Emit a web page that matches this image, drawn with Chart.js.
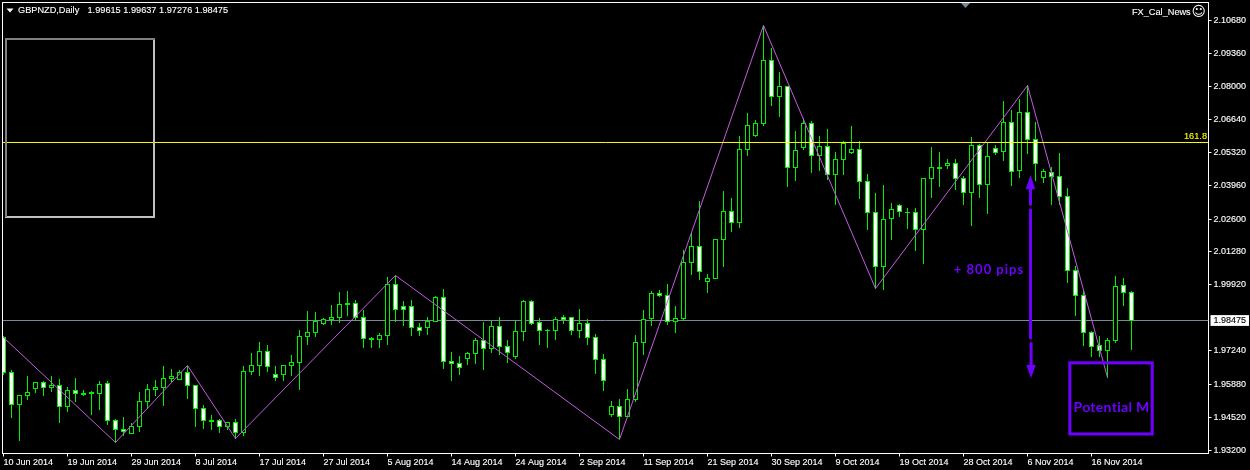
<!DOCTYPE html>
<html>
<head>
<meta charset="utf-8">
<style>html,body{margin:0;padding:0;background:#000;overflow:hidden}canvas{display:block}</style>
<script src="https://cdn.jsdelivr.net/npm/chart.js@4"></script>
</head>
<body>
<canvas id="c" width="1250" height="470"></canvas>
<script>
const opens = [
1.97784,1.96360,1.95057,1.95423,1.95708,1.95953,1.95749,1.95830,1.94976,1.95627,
1.95505,1.95546,1.95505,1.95912,1.94406,1.94040,1.93877,1.94162,1.95179,1.95668,
1.95749,1.96115,1.96075,1.96360,1.95830,1.94894,1.94406,1.94406,1.94162,1.94325,
1.93918,1.96400,1.96644,1.97214,1.96278,1.96278,1.96644,1.96767,1.97825,1.97988,
1.98354,1.98517,1.98598,1.99168,1.99168,1.98598,1.97743,1.97703,1.97865,1.99941,
1.99046,1.99046,1.98191,1.98191,1.98435,1.99412,1.96807,1.96726,1.96929,1.97133,
1.97662,1.97336,1.98232,1.97418,1.97011,1.98028,1.99249,1.98395,1.98069,1.98069,
1.98598,1.98598,1.98069,1.98354,1.97784,1.96889,1.94650,1.94976,1.94569,1.95261,
1.97581,1.98557,1.99575,1.99494,1.98435,1.98557,2.00837,2.01488,2.00063,2.00185,
2.01773,2.02912,2.02465,2.05436,2.06005,2.06494,2.09058,2.07593,2.08000,2.04703,
2.05517,2.06494,2.05191,2.05558,2.04418,2.05029,2.05314,2.05436,2.04133,2.02872,
2.00674,2.02628,2.03157,2.02872,2.02872,2.02180,2.04256,2.04703,2.04784,2.04866,
2.04256,2.03686,2.05598,2.04011,2.05476,2.05355,2.06535,2.04581,2.06942,2.05843,
2.04296,2.04500,2.04337,2.03523,2.00511,1.99494,1.97988,1.97458,1.97255,1.97662,
1.99900,1.99615];
const highs = [
1.97825,1.96441,1.95423,1.96197,1.95953,1.95993,1.96197,1.96075,1.95749,1.96115,
1.95627,1.95586,1.95993,1.95993,1.94447,1.94528,1.94284,1.95546,1.95871,1.96034,
1.96604,1.96482,1.96441,1.96604,1.95830,1.95016,1.94609,1.94447,1.94325,1.94447,
1.96604,1.97133,1.97581,1.97458,1.96604,1.96644,1.97051,1.98069,1.98842,1.98802,
1.98557,1.99086,1.99616,1.99656,1.99290,1.98883,1.97784,1.97947,2.00226,2.00307,
1.99249,1.99290,1.98354,1.98598,1.99453,1.99738,1.97174,1.97011,1.97174,1.97743,
1.98395,1.98435,1.98598,1.97662,1.98435,1.99290,1.99290,1.98557,1.98110,1.98598,
1.98679,1.98598,1.98924,1.98517,1.97906,1.97092,1.95179,1.95261,1.95668,1.97865,
1.98883,1.99656,1.99697,1.99941,1.99046,2.01325,2.02017,2.03319,2.00348,2.01773,
2.03726,2.03441,2.05965,2.06901,2.06616,2.10482,2.09546,2.08570,2.08000,2.06168,
2.06697,2.06575,2.05965,2.06250,2.05314,2.05761,2.06372,2.05761,2.04418,2.03645,
2.03971,2.03238,2.03197,2.03034,2.03034,2.04256,2.05517,2.05314,2.05029,2.05029,
2.04337,2.05924,2.05639,2.05680,2.05598,2.07389,2.07023,2.07471,2.08040,2.06535,
2.04622,2.04703,2.05273,2.03848,2.00674,1.99656,1.98028,1.97825,1.97743,2.00267,
2.00185,1.99637];
const lows = [
1.96278,1.94528,1.93592,1.95261,1.95546,1.95423,1.95586,1.94325,1.94772,1.95179,
1.95423,1.94650,1.94854,1.94243,1.93511,1.93795,1.93877,1.93958,1.94894,1.95423,
1.95016,1.95993,1.96075,1.95301,1.94162,1.94080,1.94040,1.93918,1.94040,1.93673,
1.93795,1.96278,1.96237,1.96400,1.96034,1.96034,1.96237,1.95668,1.97499,1.97825,
1.98313,1.98313,1.98395,1.98679,1.98476,1.97377,1.97377,1.97377,1.97499,1.98435,
1.98272,1.97865,1.97865,1.97906,1.98435,1.96523,1.96034,1.96278,1.96685,1.96726,
1.96482,1.97174,1.97092,1.96767,1.96929,1.97662,1.98313,1.97499,1.97377,1.97703,
1.98354,1.97906,1.97784,1.97499,1.96319,1.95627,1.94569,1.93673,1.94569,1.95179,
1.97092,1.98272,1.99453,1.98313,1.97988,1.98476,2.00348,2.00145,1.99616,2.00185,
2.00674,2.02098,2.02261,2.05191,2.05965,2.06412,2.07226,2.06779,2.03930,2.04174,
2.05436,2.04500,2.04581,2.04215,2.03197,2.04418,2.05273,2.03441,2.02180,1.99778,
1.99738,2.01773,2.02709,2.02220,2.01325,2.00796,2.03482,2.03930,2.04662,2.03808,
2.03197,2.02342,2.03482,2.02831,2.05232,2.04988,2.03971,2.04296,2.05273,2.04174,
2.04093,2.03197,2.03197,2.00023,1.98679,1.97458,1.97011,1.97011,1.96156,1.97581,
1.99086,1.97276];
const closes = [
1.96360,1.95057,1.95423,1.95546,1.95953,1.95749,1.95830,1.94976,1.95627,1.95505,
1.95464,1.95505,1.95871,1.94406,1.94040,1.93958,1.94162,1.95179,1.95668,1.95749,
1.96115,1.96197,1.96360,1.95830,1.94894,1.94406,1.94365,1.94162,1.94325,1.93918,
1.96400,1.96644,1.97214,1.96604,1.96156,1.96644,1.96767,1.97825,1.97988,1.98435,
1.98517,1.98598,1.99127,1.99127,1.98598,1.97743,1.97703,1.97865,1.99941,1.98924,
1.98924,1.98191,1.98069,1.98435,1.99412,1.96807,1.96726,1.96563,1.97133,1.97662,
1.97336,1.98232,1.97418,1.97174,1.98028,1.99249,1.98354,1.98069,1.98069,1.98517,
1.98517,1.98069,1.98354,1.97784,1.96889,1.96034,1.94976,1.94569,1.95261,1.97581,
1.98517,1.99575,1.99494,1.98435,1.98557,2.00837,2.01488,2.00470,2.00185,2.01773,
2.02912,2.02465,2.05436,2.06412,2.06494,2.09058,2.07593,2.08000,2.04703,2.05395,
2.06494,2.05191,2.05558,2.04418,2.05029,2.05680,2.05436,2.04133,2.02872,2.00674,
2.02587,2.02994,2.02912,2.02872,2.02180,2.04256,2.04703,2.04662,2.04866,2.04256,
2.03686,2.05598,2.04011,2.05151,2.05314,2.06535,2.04540,2.06942,2.05843,2.04866,
2.04540,2.04337,2.03523,2.00511,1.99494,1.97988,1.97418,1.97255,1.97662,1.99860,
1.99616,1.98475];

const zigIndex = [0,14,23,29,49,77,95,109,128,138];
const zigPrice = [1.97784,1.93511,1.96644,1.93673,2.00307,1.93632,2.10482,1.99778,2.08040,1.96156];

const fibPrice = 2.05720;
const bidPrice = 1.98475;

const yTickValues = [2.1068,2.0936,2.08,2.0664,2.0532,2.0396,2.026,2.0128,1.9992,1.98475,1.9724,1.9588,1.9452,1.932];
const xTickIndex = [0,8,16,24,32,40,48,56,64,72,80,88,96,104,112,120,128,136];
const xTickLabels = ["10 Jun 2014","19 Jun 2014","29 Jun 2014","8 Jul 2014","17 Jul 2014","27 Jul 2014","5 Aug 2014","14 Aug 2014","24 Aug 2014","2 Sep 2014","11 Sep 2014","21 Sep 2014","30 Sep 2014","9 Oct 2014","19 Oct 2014","28 Oct 2014","6 Nov 2014","16 Nov 2014"];

const GREEN = '#00f000', PURPLE = '#6f00ff', ORCHID = '#c25ede';
const FONT = '9.2px "Liberation Sans"';
const X_MIN = -0.125, X_MAX = 150.625;

// crisp, pixel-snapped boxes in the way the terminal draws them
Chart.BarElement.prototype.draw = function (ctx) {
  const o = this.options;
  const left = Math.round(this.x - this.width / 2), w = Math.round(this.width);
  const top = Math.floor(Math.min(this.y, this.base));
  const h = Math.floor(Math.max(this.y, this.base)) + 1 - top;
  if (o.borderWidth > 0) {
    ctx.fillStyle = o.borderColor;
    ctx.fillRect(left, top, w, h);
    if (w > 2 && h > 2) {
      ctx.fillStyle = o.backgroundColor;
      ctx.fillRect(left + 1, top + 1, w - 2, h - 2);
    }
  } else {
    ctx.fillStyle = o.backgroundColor;
    ctx.fillRect(left, top, w, h);
  }
};

const overlay = {
  id: 'overlay',
  afterDraw(chart) {
    const { ctx, scales } = chart;
    const X = i => scales.x.getPixelForValue(i), Y = p => scales.y.getPixelForValue(p);
    const label = (t, x, y) => { ctx.strokeText(t, x, y); ctx.fillText(t, x, y); };
    ctx.save();
    // frame, top and left
    ctx.fillStyle = '#fff';
    ctx.fillRect(2, 2, 1207, 1);
    ctx.fillRect(2, 2, 1, 452);
    // sunken empty panel
    ctx.fillStyle = '#c0c0c0';
    ctx.fillRect(5, 216, 150, 2);
    ctx.fillRect(153, 38, 2, 180);
    ctx.fillStyle = '#808080';
    ctx.fillRect(5, 38, 150, 2);
    ctx.fillRect(5, 38, 2, 179);
    // chart menu triangle
    ctx.fillStyle = '#fff';
    ctx.beginPath(); ctx.moveTo(6.5, 8.5); ctx.lineTo(13.5, 8.5); ctx.lineTo(10, 12.5); ctx.closePath(); ctx.fill();
    // chart shift marker
    ctx.fillStyle = '#778899';
    ctx.beginPath(); ctx.moveTo(961, 3); ctx.lineTo(970, 3); ctx.lineTo(965.5, 8); ctx.closePath(); ctx.fill();
    // header text
    ctx.font = FONT; ctx.textBaseline = 'middle'; ctx.textAlign = 'left';
    ctx.fillStyle = '#fff'; ctx.strokeStyle = '#fff'; ctx.lineWidth = 0.12;
    label('GBPNZD,Daily', 18, 10.5);
    label('1.99615 1.99637 1.97276 1.98475', 87.5, 10.5);
    label('FX_Cal_News', 1132, 12.5);
    ctx.font = '14px "DejaVu Sans"';
    ctx.fillText('\u263A', 1191.5, 12.5);
    // fib label
    ctx.font = FONT; ctx.fillStyle = '#ffff00'; ctx.strokeStyle = '#ffff00'; ctx.textAlign = 'right';
    label('161.8', 1207, Y(fibPrice) - 6);
    // purple arrows
    ctx.strokeStyle = PURPLE; ctx.fillStyle = PURPLE; ctx.lineWidth = 3; ctx.lineCap = 'round';
    const stem = (i, a, b) => { ctx.beginPath(); ctx.moveTo(X(i), Y(a)); ctx.lineTo(X(i), Y(b)); ctx.stroke(); };
    const head = (i, tip, base) => { ctx.beginPath(); ctx.moveTo(X(i), Y(tip)); ctx.lineTo(X(i) - 4.7, Y(base)); ctx.lineTo(X(i) + 4.7, Y(base)); ctx.closePath(); ctx.fill(); };
    stem(128.375, 2.03815, 2.03204);
    head(128.375, 2.04397, 2.03815);
    stem(128.375, 2.02972, 1.97763);
    stem(128.45, 1.97539, 1.96664);
    head(128.45, 1.96135, 1.96664);
    ctx.lineCap = 'butt';
    // potential target box
    const bx = X(133.29), by = Y(1.96753);
    ctx.strokeRect(bx, by, X(143.59) - bx, Y(1.93856) - by);
    ctx.textAlign = 'center';
    ctx.font = 'bold 14px Lato';
    ctx.letterSpacing = '0.3px';
    ctx.fillText('Potential M', 1111.5, 407);
    ctx.font = 'bold 13px Lato';
    ctx.letterSpacing = '1px';
    ctx.fillText('+ 800 pips', 989, 270);
    ctx.restore();
  }
};

const idx = opens.map((_, i) => i);
const body = keep => idx.filter(keep).map(i => ({ x: i, y: [opens[i], closes[i]] }));

new Chart(document.getElementById('c'), {
  type: 'bar',
  data: {
    datasets: [
      { type: 'line', label: 'Bid', order: 5, data: [{ x: X_MIN, y: bidPrice }, { x: X_MAX, y: bidPrice }], borderColor: '#778899', borderWidth: 1, pointRadius: 0 },
      { label: 'Range', order: 4, data: idx.map(i => ({ x: i, y: [lows[i], highs[i]] })), backgroundColor: GREEN, borderWidth: 0, barThickness: 1, grouped: false },
      { label: 'Rising', order: 3, data: body(i => closes[i] >= opens[i] && i !== 68), backgroundColor: '#000', borderColor: GREEN, borderWidth: 1, barThickness: 5, grouped: false },
      { label: 'Falling', order: 3, data: body(i => closes[i] < opens[i] || i === 68), backgroundColor: '#fff', borderColor: GREEN, borderWidth: 1, barThickness: 5, grouped: false },
      { type: 'line', label: 'ZigZag', order: 2, data: zigIndex.map((v, i) => ({ x: v, y: zigPrice[i] })), borderColor: ORCHID, borderWidth: 1, pointRadius: 0, tension: 0 },
      { type: 'line', label: '161.8', order: 1, data: [{ x: X_MIN, y: fibPrice }, { x: X_MAX, y: fibPrice }], borderColor: '#ffff00', borderWidth: 1, pointRadius: 0 }
    ]
  },
  options: {
    responsive: false,
    animation: false,
    devicePixelRatio: 1,
    layout: { padding: { left: 2.5, top: 2.5, right: 0, bottom: 0 } },
    plugins: { legend: { display: false }, tooltip: { enabled: false }, title: { display: false } },
    scales: {
      x: {
        type: 'linear', offset: false, min: X_MIN, max: X_MAX,
        afterBuildTicks: s => { s.ticks = xTickIndex.map(v => ({ value: v })); },
        afterFit: s => { s.height = 16.5; s.paddingLeft = 0; s.paddingRight = 0; },
        border: { color: '#fff', width: 1 },
        grid: { offset: false, drawOnChartArea: false, color: '#fff', tickColor: '#fff', tickLength: 3, tickWidth: 1 },
        ticks: { autoSkip: false, maxRotation: 0, minRotation: 0, align: 'start', padding: 1, color: '#fff', textStrokeColor: '#fff', textStrokeWidth: 0.12, font: { family: 'Liberation Sans', size: 9 }, callback: (v, i) => xTickLabels[i] }
      },
      y: {
        type: 'linear', position: 'right', beginAtZero: false, min: 1.930619, max: 2.114176,
        afterBuildTicks: s => { s.ticks = yTickValues.map(v => ({ value: v })); },
        afterFit: s => { s.width = 41.5; s.paddingTop = 0; s.paddingBottom = 0; },
        border: { color: '#fff', width: 1 },
        grid: { drawOnChartArea: false, color: '#fff', tickLength: 3, tickWidth: 1, tickColor: c => c.tick && c.tick.value === bidPrice ? 'rgba(0,0,0,0)' : '#fff' },
        ticks: {
          autoSkip: false, padding: 2, font: { family: 'Liberation Sans', size: 9 },
          color: c => c.tick.value === bidPrice ? '#000' : '#fff',
          textStrokeColor: c => c.tick.value === bidPrice ? '#000' : '#fff', textStrokeWidth: 0.12,
          showLabelBackdrop: c => c.tick.value === bidPrice,
          backdropColor: '#fff', backdropPadding: { left: 3, right: 3, top: 0, bottom: 0 },
          callback: v => v.toFixed(5)
        }
      }
    }
  },
  plugins: [overlay]
});
</script>
</body>
</html>
